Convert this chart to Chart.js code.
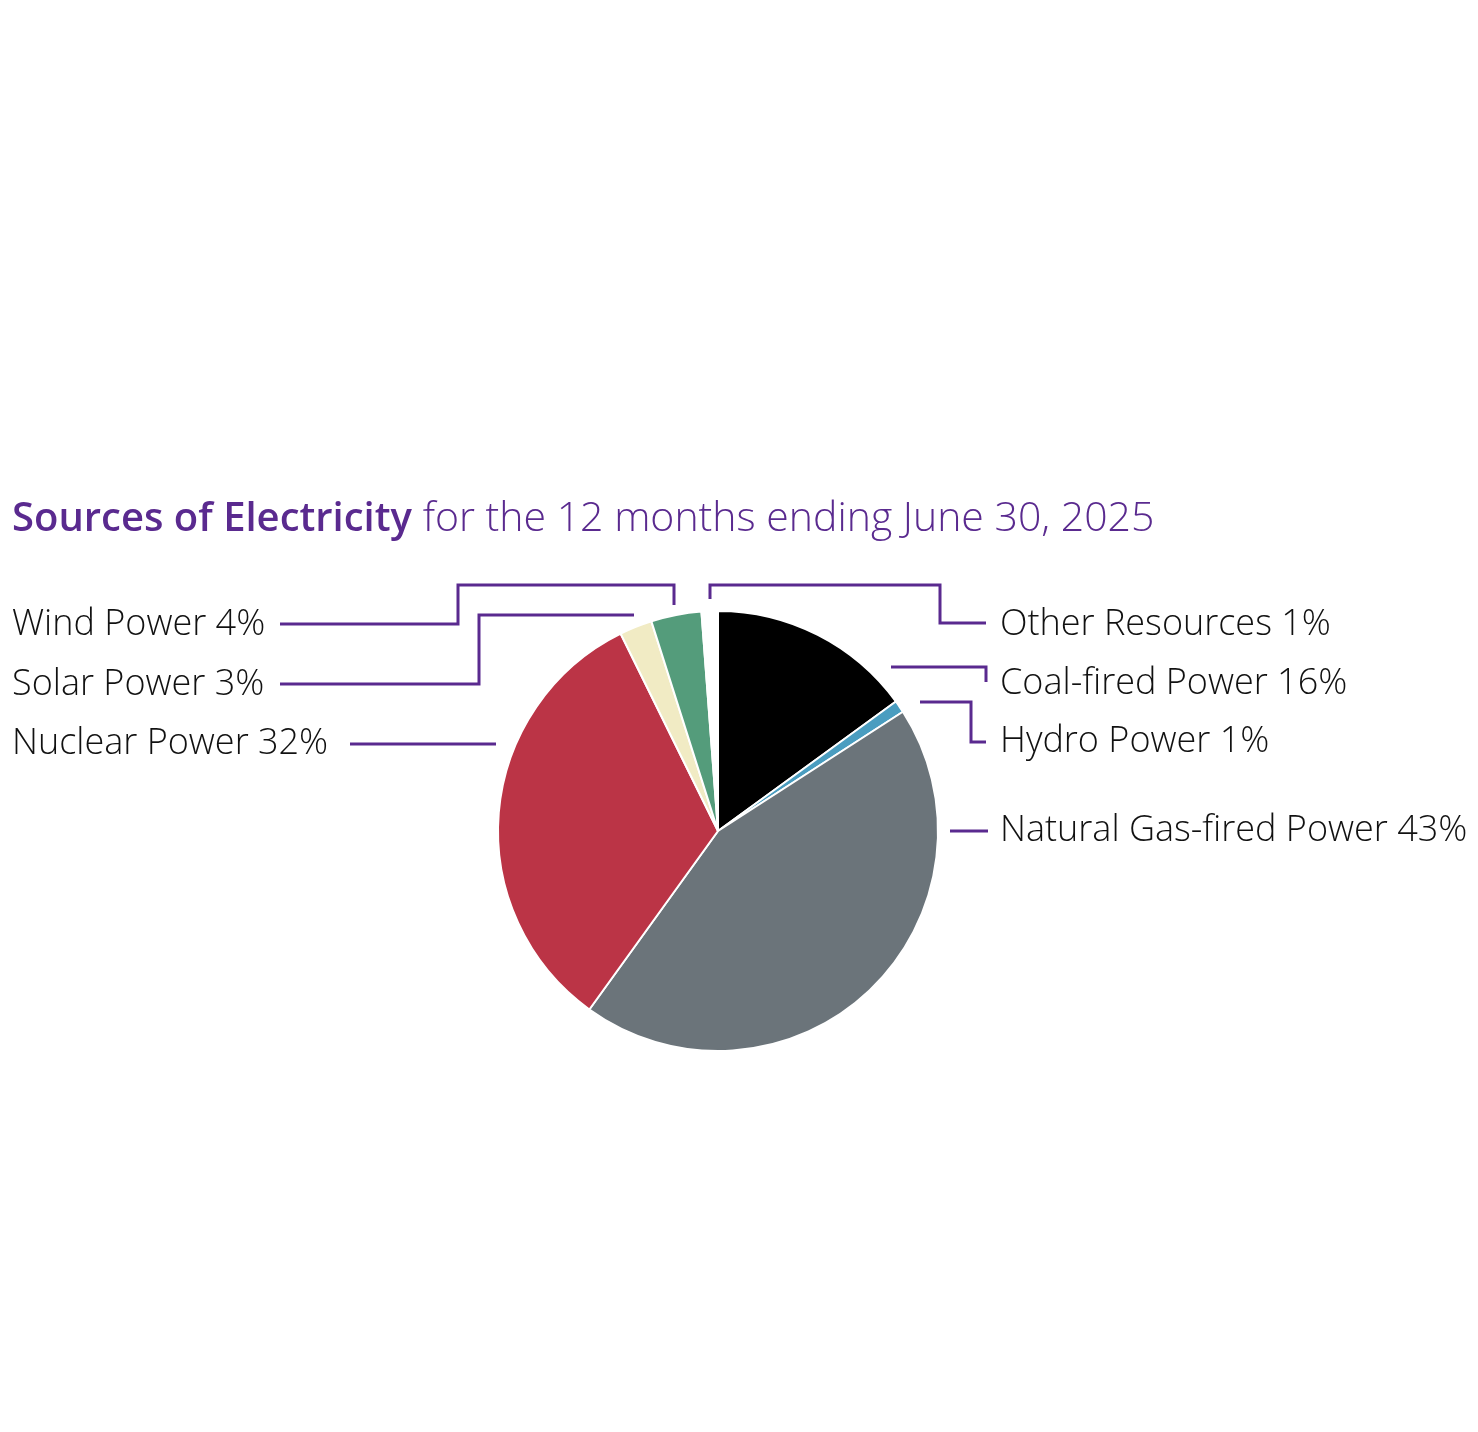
<!DOCTYPE html>
<html>
<head>
<meta charset="utf-8">
<script src="https://cdn.jsdelivr.net/npm/chart.js@4.4.1/dist/chart.umd.min.js"></script>
<style>
    html, body { margin: 0; padding: 0; background: #fff; }
    #wrap { position: relative; width: 1478px; height: 1432px; }
</style>
</head>
<body>
<div id="wrap"><canvas id="pie" width="1478" height="1432"></canvas></div>
<script>
// slice order: clockwise from 12 o'clock
const sources = ["Coal-fired Power", "Hydro Power", "Natural Gas-fired Power", "Nuclear Power", "Solar Power", "Wind Power", "Other Resources"];
const shares = [15.0, 0.9, 44.1, 32.8, 2.4, 3.7, 1.2];       // slice sizes
const statedPct = [16, 1, 43, 32, 3, 4, 1];                    // percentages printed in the labels
const sliceColors = ["#000000", "#4a9dc0", "#6b747a", "#bb3446", "#f1ebc4", "#549c7b", "#ffffff"];

const purple = "#5a2a8f";
const font = "'Open Sans', sans-serif";

// label placement + leader polylines, relative to the pie centre
const callouts = {
    "Wind Power":              { side: "left",  ty: -206, line: [[-438, -207], [-260, -207], [-260, -246], [-44, -246], [-44, -226]] },
    "Solar Power":             { side: "left",  ty: -146, line: [[-438, -147], [-239, -147], [-239, -216], [-84, -216]] },
    "Nuclear Power":           { side: "left",  ty: -87,  line: [[-368, -87], [-222, -87]] },
    "Other Resources":         { side: "right", ty: -206, line: [[-8, -232], [-8, -246], [222, -246], [222, -208], [268, -208]] },
    "Coal-fired Power":        { side: "right", ty: -147, line: [[173, -164], [268, -164], [268, -149]] },
    "Hydro Power":             { side: "right", ty: -89,  line: [[202, -129], [253, -129], [253, -89], [268, -89]] },
    "Natural Gas-fired Power": { side: "right", ty: 0,    line: [[232, 0], [270, 0]] }
};

const calloutPlugin = {
    id: "callouts",
    afterDraw(chart) {
        const ctx = chart.ctx;
        const arc = chart.getDatasetMeta(0).data[0];
        const cx = arc.x, cy = arc.y;

        // title
        ctx.save();
        ctx.textBaseline = "alphabetic";
        ctx.fillStyle = purple;
        ctx.font = "600 40px " + font;
        const bold = "Sources of Electricity";
        ctx.fillText(bold, 12, 531);
        const w = ctx.measureText(bold).width;
        ctx.font = "300 41px " + font;
        ctx.fillText(" for the 12 months ending June 30, 2025", 12 + w, 531);

        // leaders
        ctx.strokeStyle = purple;
        ctx.lineWidth = 3;
        ctx.lineJoin = "miter";
        sources.forEach((name, i) => {
            const c = callouts[name];
            ctx.beginPath();
            c.line.forEach(([dx, dy], k) => {
                k ? ctx.lineTo(cx + dx, cy + dy) : ctx.moveTo(cx + dx, cy + dy);
            });
            ctx.stroke();

            ctx.fillStyle = "#111";
            ctx.font = "300 36px " + font;
            ctx.textBaseline = "middle";
            ctx.textAlign = "left";
            const x = c.side === "left" ? 12 : cx + 282;
            ctx.fillText(name + " " + statedPct[i] + "%", x, cy + c.ty);
        });
        ctx.restore();
    }
};

new Chart(document.getElementById("pie"), {
    type: "pie",
    data: {
        labels: sources,
        datasets: [{
            data: shares,
            backgroundColor: sliceColors,
            borderColor: "#ffffff",
            borderWidth: 2
        }]
    },
    options: {
        responsive: false,
        animation: false,
        radius: 220,
        layout: { padding: { left: 0, right: 42, top: 230, bottom: 0 } },
        plugins: { legend: { display: false }, tooltip: { enabled: false } }
    },
    plugins: [calloutPlugin]
});
</script>
</body>
</html>
